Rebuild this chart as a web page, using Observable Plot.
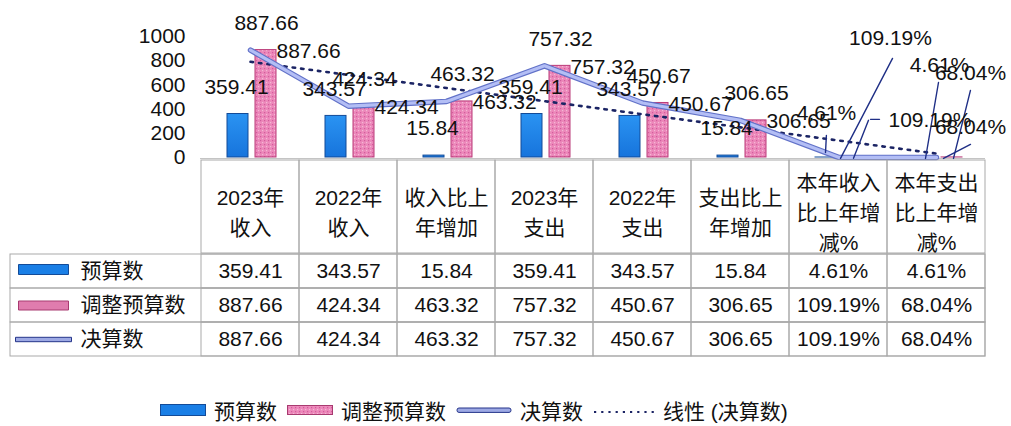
<!DOCTYPE html>
<html><head><meta charset="utf-8">
<script src="https://cdn.jsdelivr.net/npm/d3@7"></script>
<script src="https://cdn.jsdelivr.net/npm/@observablehq/plot@0.6"></script>
<style>
body{margin:0;background:#fff;}
#wrap{width:1011px;height:426px;position:relative;font-family:"Liberation Sans","Noto Sans CJK SC",sans-serif;color:#111;}
#wrap svg{display:block;overflow:visible;}
.legend{position:absolute;left:160px;top:395px;display:flex;align-items:center;font-size:21px;white-space:nowrap;}
.legend svg{display:inline-block;margin-right:8px;}
.legend span{margin-right:10px;}
</style></head><body><div id="wrap"></div>
<script>
// ---- data ----
const categories = ["2023年\n收入","2022年\n收入","收入比上\n年增加","2023年\n支出","2022年\n支出","支出比上\n年增加","本年收入\n比上年增\n减%","本年支出\n比上年增\n减%"];
const seriesNames = ["预算数","调整预算数","决算数"];
const budget   = [359.41,343.57,15.84,359.41,343.57,15.84,0.0461,0.0461];
const adjusted = [887.66,424.34,463.32,757.32,450.67,306.65,1.0919,0.6804];
const actual   = [887.66,424.34,463.32,757.32,450.67,306.65,1.0919,0.6804];
const yTicks = [0,200,400,600,800,1000];
const legendLabels = ["预算数","调整预算数","决算数","线性 (决算数)"];

const FONT = '"Liberation Sans","Noto Sans CJK SC",sans-serif';
const FS = 21;
const fmt = (v, pct) => pct ? (v*100).toFixed(2) + "%" : v.toFixed(2);
const rows = categories.map((c,i)=>({cat:c, i, budget:budget[i], adjusted:adjusted[i], actual:actual[i], pct:c.includes("%")}));
const normal = rows.filter(d=>!d.pct);

// linear trendline (least squares of 决算数 over category index)
const xs = d3.range(1, actual.length+1);
const mx = d3.mean(xs), my = d3.mean(actual);
const slope = d3.sum(xs,(x,i)=>(x-mx)*(actual[i]-my)) / d3.sum(xs,x=>(x-mx)**2);
const trend = categories.map((c,i)=>({cat:c, v: my + slope*(i+1-mx)}));

const X = {type:"band", domain:categories, range:[200,985], padding:0, axis:null};
const style = {fontSize:FS+"px", fontFamily:FONT, color:"#111", background:"transparent", overflow:"visible"};

const lineShape = {draw(ctx, l){ ctx.moveTo(0,0); ctx.lineTo(0,-l); }};
const leader = (i, key, dx, dy, len, rot) => Plot.vector([rows[i]], {x:"cat", y:key, dx, dy, length:len, rotate:rot, anchor:"start", shape:lineShape, stroke:"#1f2f86", strokeWidth:1.4});
const pctLabel = (i, key, dx, dy, anchor) => Plot.text([rows[i]], {x:"cat", y:key, text:d=>fmt(d[key], true), dx, dy, textAnchor:anchor, fontSize:FS, fill:"#111"});

const chart = Plot.plot({
  width:1011, height:160, marginLeft:200, marginRight:26, marginTop:36, marginBottom:3,
  style,
  x: X,
  y: {domain:[0,1000], range:[157,36], ticks:yTicks, tickFormat:d3.format("d"), tickSize:0, tickPadding:15, label:null},
  marks: [
    Plot.ruleY([0], {stroke:"#c4c4c4", dy:1}),
    Plot.barY(rows, {x:"cat", y:"budget", insetLeft:26, insetRight:51, fill:"url(#blueGrad)", stroke:"#134b98", strokeWidth:1}),
    Plot.barY(rows, {x:"cat", y:"adjusted", insetLeft:54, insetRight:23, fill:"url(#pinkPat)", stroke:"#b93a78", strokeWidth:1}),
    Plot.line(trend, {x:"cat", y:"v", stroke:"#1b2464", strokeWidth:2.6, strokeDasharray:"2.5,6"}),
    Plot.line(rows, {x:"cat", y:"actual", stroke:"#6272c8", strokeWidth:5.5, strokeLinejoin:"round"}),
    Plot.line(rows, {x:"cat", y:"actual", stroke:"#b3bef5", strokeWidth:3.2, strokeLinejoin:"round"}),
    // labels for regular categories
    Plot.text(normal, {x:"cat", y:"budget", text:d=>fmt(d.budget,false), dx:-14, dy:-27, fontSize:FS, fill:"#111"}),
    Plot.text(normal, {x:"cat", y:"adjusted", text:d=>fmt(d.adjusted,false), dx:26, dy:1, textAnchor:"start", fontSize:FS, fill:"#111"}),
    Plot.text(normal, {x:"cat", y:"actual", text:d=>fmt(d.actual,false), dx:16, dy:-27, fontSize:FS, fill:"#111"}),
    // leader lines for percentage categories
    leader(6,"actual",2,1,112.7,27.5),
    leader(6,"adjusted",15,1,40.9,21.5),
    leader(6,"adjusted",32,-38,9,90),
    leader(6,"budget",-13,-5,17,3),
    leader(7,"budget",-11,1,77.1,9.7),
    leader(7,"actual",17,1,70.1,14),
    leader(7,"adjusted",7,1,30.4,62.6),
    pctLabel(6,"budget",-12,-44,"middle"),
    pctLabel(6,"adjusted",50,-37,"start"),
    pctLabel(6,"actual",52,-119,"middle"),
    pctLabel(7,"budget",3,-92,"middle"),
    pctLabel(7,"actual",34,-84,"middle"),
    pctLabel(7,"adjusted",34,-30,"middle")
  ]
});
const defs = d3.select(chart).insert("defs", ":first-child");
const g = defs.append("linearGradient").attr("id","blueGrad").attr("x1",0).attr("y1",0).attr("x2",0).attr("y2",1);
g.append("stop").attr("offset","0%").attr("stop-color","#2a93f2");
g.append("stop").attr("offset","100%").attr("stop-color","#1774dc");
const p = defs.append("pattern").attr("id","pinkPat").attr("width",4).attr("height",4).attr("patternUnits","userSpaceOnUse");
p.append("rect").attr("width",4).attr("height",4).attr("fill","#ec88ba");
p.append("rect").attr("x",0).attr("y",0).attr("width",1.2).attr("height",1.2).attr("fill","#d35c9c");
p.append("rect").attr("x",2).attr("y",2).attr("width",1.2).attr("height",1.2).attr("fill","#f4b8d6");

const header = Plot.plot({
  width:1011, height:93, marginLeft:200, marginRight:26, marginTop:0, marginBottom:0,
  style, x: X,
  marks: [
    Plot.cell(categories, {x:d=>d, fill:"none", stroke:"#a9a9a9", strokeWidth:1}),
    Plot.text(categories, {x:d=>d, text:d=>d, frameAnchor:"middle", lineHeight:1.43, fontSize:FS, dy:3, fill:"#111"})
  ]
});

const valuesBySeries = [budget, adjusted, actual];
const tableRows = seriesNames.flatMap((s,si)=>rows.map(r=>({series:s, cat:r.cat, text:fmt(valuesBySeries[si][r.i], r.pct)})));
const swatch = {
  "预算数": {sym:{draw(ctx){ctx.rect(-25,-5,50,10);}}, fill:"#1a7fe6", stroke:"#134b98", dy:-2},
  "调整预算数": {sym:{draw(ctx){ctx.rect(-25,-4.5,50,9);}}, fill:"#e07cae", stroke:"#a83a70", dy:0},
  "决算数": {sym:{draw(ctx){ctx.rect(-28,-2.2,56,4.4);}}, fill:"#9da9e4", stroke:"#26358a", dy:0}
};
const table = Plot.plot({
  width:1011, height:103, marginLeft:10, marginRight:26, marginTop:0, marginBottom:0,
  style, x: X,
  y: {type:"band", domain:seriesNames, padding:0, axis:null},
  marks: [
    Plot.cell(seriesNames, {y:d=>d, fill:"none", stroke:"#a9a9a9", strokeWidth:1}),
    Plot.cell(tableRows, {x:"cat", y:"series", fill:"none", stroke:"#a9a9a9", strokeWidth:1}),
    Plot.text(tableRows, {x:"cat", y:"series", text:"text", fontSize:FS, fill:"#111"}),
    Plot.text(seriesNames, {y:d=>d, text:d=>d, frameAnchor:"left", dx:70, textAnchor:"start", fontSize:FS, fill:"#111"}),
    ...seriesNames.map(s=>Plot.dot([s], {y:d=>d, frameAnchor:"left", dx:33, dy:swatch[s].dy, symbol:swatch[s].sym, r:5, fill:swatch[s].fill, stroke:swatch[s].stroke, strokeWidth:1}))
  ]
});

const wrap = document.getElementById("wrap");
wrap.append(chart, header, table);

// bottom legend
const leg = document.createElement("div");
leg.className = "legend";
const sw = [
  `<svg width="46" height="14"><rect x="0.5" y="1.5" width="45" height="11" fill="#1a7fe6" stroke="#134b98"/></svg>`,
  `<svg width="46" height="14"><rect x="0.5" y="2.5" width="45" height="9" fill="url(#pinkPat)" stroke="#a83a70"/></svg>`,
  `<svg width="56" height="14"><rect x="1" y="5" width="54" height="4.4" rx="2" fill="#9da9e4" stroke="#26358a"/></svg>`,
  `<svg width="62" height="14"><line x1="1" y1="9" x2="62" y2="9" stroke="#1b2464" stroke-width="2.2" stroke-dasharray="2.2,5"/></svg>`
];
leg.innerHTML = legendLabels.map((t,i)=>sw[i] + `<span>${t}</span>`).join("");
wrap.append(leg);
</script></body></html>
